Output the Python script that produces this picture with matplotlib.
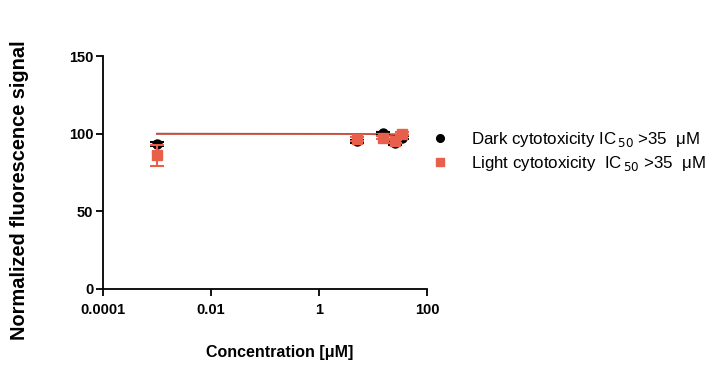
import numpy as np
import matplotlib
matplotlib.use("Agg")
import matplotlib.pyplot as plt
from matplotlib.lines import Line2D

plt.rcParams['font.family'] = ['Liberation Sans', 'DejaVu Sans']

conc = [0.001, 5, 15, 25, 35]
dark_vals = [93.4, 95.2, 100.2, 94.0, 97.5]
dark_err = [1.5, 1.0, 1.0, 1.0, 1.0]
light_vals = [86.0, 96.6, 97.5, 95.0, 100.0]
light_err = [7.0, 1.0, 1.0, 1.0, 1.0]

# fitted curve parameters (top, bottom, logIC50, hill)
dark_fit = (100.0, 0.0, 3.5, 1.0)
light_fit = (99.7, 99.7, 2.0, 1.0)

labels = ["Dark cytotoxicity IC$_{\\,50}$ >35  \u03bcM",
          "Light cytotoxicity  IC$_{\\,50}$ >35  \u03bcM"]
xticks = [0.0001, 0.01, 1, 100]
xticklabels = ["0.0001", "0.01", "1", "100"]
yticks = [0, 50, 100, 150]

red = "#e8604c"

def curve(x, p):
    top, bot, logic, h = p
    return bot + (top - bot) / (1 + 10 ** ((np.log10(x) - logic) * h))

fig = plt.figure(figsize=(7.25, 3.69), dpi=100)
ax = fig.add_axes([0.142, 0.217, 0.447, 0.631])

xs = np.logspace(np.log10(conc[0]), np.log10(conc[-1]), 200)
ax.plot(xs, curve(xs, dark_fit), color="black", lw=1.2, zorder=2)
ax.plot(xs, curve(xs, light_fit), color=red, lw=1.2, zorder=3)

ax.errorbar(conc, dark_vals, yerr=dark_err, fmt="o", color="black", ms=6.5,
            capsize=5, elinewidth=1.5, capthick=1.5, zorder=4)
ax.errorbar(conc, light_vals, yerr=light_err, fmt="s", color=red, ms=6.5,
            capsize=5, elinewidth=1.5, capthick=1.5, zorder=5)

ax.set_xscale("log")
ax.set_xlim(0.0001, 100)
ax.set_ylim(0, 150)
ax.set_xticks(xticks)
ax.set_xticklabels(xticklabels)
ax.xaxis.set_minor_locator(matplotlib.ticker.NullLocator())
ax.set_yticks(yticks)
for s in ["top", "right"]:
    ax.spines[s].set_visible(False)
for s in ["left", "bottom"]:
    ax.spines[s].set_linewidth(1.3)
ax.tick_params(direction="out", length=5, width=1.3, labelsize=10.5)
ax.tick_params(axis="x", pad=5)
ax.tick_params(axis="y", pad=2)
for t in ax.get_xticklabels() + ax.get_yticklabels():
    t.set_fontweight("bold")

ax.set_xlabel("Concentration [\u03bcM]", fontsize=11.5, fontweight="bold")
ax.xaxis.set_label_coords(0.546, -0.24)
fig.text(0.027, 0.485, "Normalized fluorescence signal", rotation=90,
         fontsize=14.4, fontweight="bold", ha="center", va="center")

handles = [Line2D([], [], marker="o", color="black", ls="none", ms=5.5),
           Line2D([], [], marker="s", color=red, ls="none", ms=5.5)]
fig.legend(handles, labels, loc="center left", bbox_to_anchor=(0.562, 0.589),
           frameon=False, fontsize=12.2, handletextpad=0.84, labelspacing=0.3)

fig.savefig("out.png", dpi=100)
